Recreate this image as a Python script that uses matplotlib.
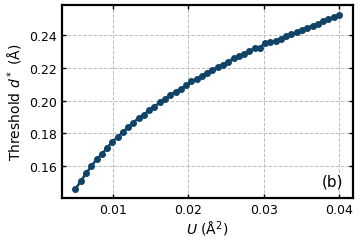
import matplotlib
matplotlib.use("Agg")
import matplotlib.pyplot as plt

# data
U = [0.005 + 0.0007 * i for i in range(51)]
d_star = [0.1460, 0.1508, 0.1555, 0.1598, 0.1642, 0.1672, 0.1712, 0.1749, 0.1776, 0.1808,
          0.1838, 0.1865, 0.1895, 0.1912, 0.1944, 0.1962, 0.1990, 0.2010, 0.2035, 0.2055,
          0.2070, 0.2093, 0.2118, 0.2132, 0.2152, 0.2170, 0.2188, 0.2203, 0.2220, 0.2238,
          0.2258, 0.2270, 0.2287, 0.2302, 0.2320, 0.2322, 0.2352, 0.2358, 0.2362, 0.2378,
          0.2392, 0.2405, 0.2418, 0.2430, 0.2445, 0.2456, 0.2470, 0.2484, 0.2497, 0.2512,
          0.2520]

plt.rcParams['font.family'] = ['DejaVu Sans']
plt.rcParams['mathtext.fontset'] = 'dejavusans'

fig = plt.figure(figsize=(3.6, 2.51), dpi=100)
ax = fig.add_axes([0.172, 0.207, 0.809, 0.769])

ax.plot(U, d_star, color='#0f4468', marker='o', markersize=4, linewidth=1.8)

ax.set_xlim(0.0032, 0.0419)
ax.set_ylim(0.1405, 0.2583)
ax.set_xticks([0.01, 0.02, 0.03, 0.04])
ax.set_yticks([0.16, 0.18, 0.20, 0.22, 0.24])
ax.set_xticklabels(['0.01', '0.02', '0.03', '0.04'])
ax.set_yticklabels(['0.16', '0.18', '0.20', '0.22', '0.24'])
ax.grid(True, linestyle='--', color='#bdbdbd', linewidth=0.7)
ax.tick_params(direction='in', top=True, right=True, labelsize=9, length=3, width=1)
for s in ax.spines.values():
    s.set_linewidth(1.6)

ax.set_xlabel('$U$ (Å$^2$)', fontsize=10, labelpad=2)
ax.set_ylabel('Threshold $d^*$ (Å)', fontsize=10, labelpad=3)
ax.text(0.965, 0.05, '(b)', transform=ax.transAxes, ha='right', va='bottom', fontsize=11)

fig.savefig('out.png', dpi=100)
